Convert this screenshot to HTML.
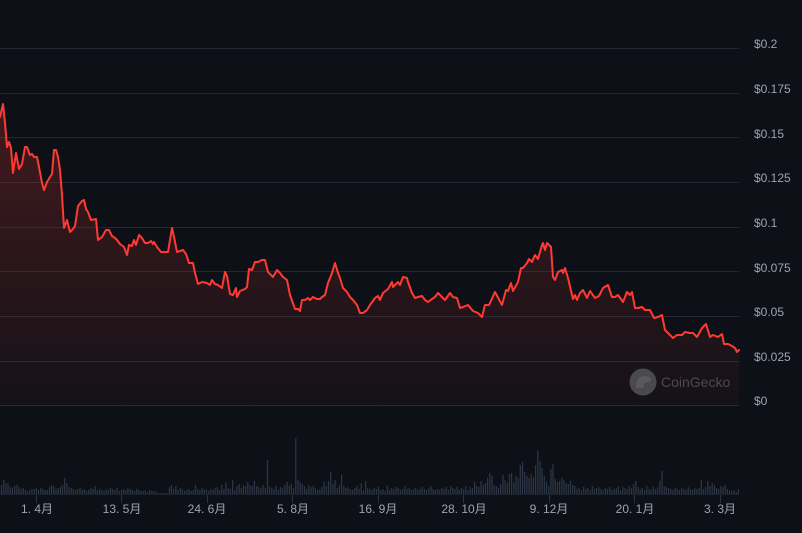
<!DOCTYPE html>
<html><head><meta charset="utf-8"><style>
html,body{margin:0;padding:0;background:#0d1117;}
svg{display:block;}
text{font-family:"Liberation Sans","Noto Sans CJK SC",sans-serif;}
</style></head><body>
<svg width="802" height="533" viewBox="0 0 802 533" xmlns="http://www.w3.org/2000/svg">
<rect width="802" height="533" fill="#0d1117"/>
<defs>
<linearGradient id="g" gradientUnits="userSpaceOnUse" x1="0" y1="104" x2="0" y2="406">
<stop offset="0" stop-color="#ff3a33" stop-opacity="0.22"/>
<stop offset="1" stop-color="#ff3a33" stop-opacity="0.03"/>
</linearGradient>
</defs>
<g stroke="#222831" stroke-width="1">
<line x1="0" x2="739" y1="48.5" y2="48.5"/>
<line x1="0" x2="739" y1="93.5" y2="93.5"/>
<line x1="0" x2="739" y1="137.5" y2="137.5"/>
<line x1="0" x2="739" y1="182.5" y2="182.5"/>
<line x1="0" x2="739" y1="227.5" y2="227.5"/>
<line x1="0" x2="739" y1="271.5" y2="271.5"/>
<line x1="0" x2="739" y1="316.5" y2="316.5"/>
<line x1="0" x2="739" y1="361.5" y2="361.5"/>
<line x1="0" x2="739" y1="405.5" y2="405.5"/>
</g>
<g fill="#9aa4b2" font-size="12">
<text x="754" y="48">$0.2</text>
<text x="754" y="93">$0.175</text>
<text x="754" y="138">$0.15</text>
<text x="754" y="182">$0.125</text>
<text x="754" y="227">$0.1</text>
<text x="754" y="272">$0.075</text>
<text x="754" y="316">$0.05</text>
<text x="754" y="361">$0.025</text>
<text x="754" y="405">$0</text>
</g>
<path fill="url(#g)" d="M0,117 L3,104 5,123 7,147 9,142 11,148 13,173 16,153 19,169 22,164 25,147 27,147 30,155 32,154 34,157 37,157 39,167 42,183 44,190 47,182 50,177 52,174 54,150 56,150 58,157 60,170 62,195 64,228 67,220 70,232 73,229 75,226 78,206 82,201 84,200 86,209 88,212 91,220 96,219 98,240 102,237 106,230 109,230 112,236 115,238 117,240 120,244 124,247 127,255 129,245 132,246 134,240 136,245 139,235 142,238 145,243 148,243 151,241 153,244 154,242 157,247 161,252 168,252 172,228 174,237 177,252 180,251 183,250 186,254 189,263 193,263 195,273 198,284 202,282 207,283 210,285 212,280 215,284 218,285 222,288 225,272 227,276 230,294 233,295 236,288 237,297 240,291 245,289 247,287 249,269 252,270 255,262 258,262 262,260 265,260 268,272 273,277 277,270 280,273 283,277 287,280 290,295 295,309 298,309 300,311 302,300 305,300 308,298 310,300 313,297 317,299 320,299 322,297 325,295 328,283 332,273 335,263 338,273 340,278 343,288 347,292 350,297 353,300 357,305 360,313 363,313 367,310 370,305 375,298 378,296 380,300 383,293 388,289 392,282 393,287 397,283 398,282 400,285 403,277 407,278 408,282 412,293 415,298 418,297 422,296 425,300 428,302 432,299 435,297 438,293 442,297 445,300 450,293 453,297 457,298 460,308 463,307 468,305 473,311 478,313 482,317 485,305 489,305 495,292 502,305 506,290 508,291 511,283 513,291 518,282 521,268 523,268 527,263 529,259 532,262 535,255 538,259 542,245 543,243 545,250 547,243 551,247 553,277 555,280 558,272 562,270 563,273 565,268 568,278 573,299 575,295 577,300 580,293 583,290 587,298 590,291 595,298 599,296 603,288 608,285 612,297 615,297 618,295 623,302 627,292 630,295 632,292 635,308 638,308 642,307 645,310 650,310 654,318 658,317 662,315 665,330 668,333 673,338 677,335 682,335 685,332 690,333 693,333 697,337 702,328 706,324 710,337 713,335 718,337 722,334 724,344 728,344 732,346 735,348 737,352 739,350 L739,406 L0,406 Z"/>
<path fill="none" stroke="#ff3a33" stroke-width="2" stroke-linejoin="round" stroke-linecap="round" d="M0,117 L3,104 5,123 7,147 9,142 11,148 13,173 16,153 19,169 22,164 25,147 27,147 30,155 32,154 34,157 37,157 39,167 42,183 44,190 47,182 50,177 52,174 54,150 56,150 58,157 60,170 62,195 64,228 67,220 70,232 73,229 75,226 78,206 82,201 84,200 86,209 88,212 91,220 96,219 98,240 102,237 106,230 109,230 112,236 115,238 117,240 120,244 124,247 127,255 129,245 132,246 134,240 136,245 139,235 142,238 145,243 148,243 151,241 153,244 154,242 157,247 161,252 168,252 172,228 174,237 177,252 180,251 183,250 186,254 189,263 193,263 195,273 198,284 202,282 207,283 210,285 212,280 215,284 218,285 222,288 225,272 227,276 230,294 233,295 236,288 237,297 240,291 245,289 247,287 249,269 252,270 255,262 258,262 262,260 265,260 268,272 273,277 277,270 280,273 283,277 287,280 290,295 295,309 298,309 300,311 302,300 305,300 308,298 310,300 313,297 317,299 320,299 322,297 325,295 328,283 332,273 335,263 338,273 340,278 343,288 347,292 350,297 353,300 357,305 360,313 363,313 367,310 370,305 375,298 378,296 380,300 383,293 388,289 392,282 393,287 397,283 398,282 400,285 403,277 407,278 408,282 412,293 415,298 418,297 422,296 425,300 428,302 432,299 435,297 438,293 442,297 445,300 450,293 453,297 457,298 460,308 463,307 468,305 473,311 478,313 482,317 485,305 489,305 495,292 502,305 506,290 508,291 511,283 513,291 518,282 521,268 523,268 527,263 529,259 532,262 535,255 538,259 542,245 543,243 545,250 547,243 551,247 553,277 555,280 558,272 562,270 563,273 565,268 568,278 573,299 575,295 577,300 580,293 583,290 587,298 590,291 595,298 599,296 603,288 608,285 612,297 615,297 618,295 623,302 627,292 630,295 632,292 635,308 638,308 642,307 645,310 650,310 654,318 658,317 662,315 665,330 668,333 673,338 677,335 682,335 685,332 690,333 693,333 697,337 702,328 706,324 710,337 713,335 718,337 722,334 724,344 728,344 732,346 735,348 737,352 739,350"/>
<circle cx="643" cy="382" r="13.5" fill="#4a4a4e"/>
<path d="M636,388 q0,-12 9,-12 q6,0 6,5 l-3,1 q-4,0 -5,6 z" fill="#5a5a5e"/>
<text x="661" y="387" font-size="14" fill="#4a4a4e">CoinGecko</text>
<line x1="0" x2="739" y1="494.5" y2="494.5" stroke="#1c222b" stroke-width="1"/>
<path stroke="#2e3747" stroke-width="1.2" fill="none" d="M1.5 494v-9M3.7 494v-14M5.9 494v-11M8.0 494v-10M10.2 494v-7M12.4 494v-6M14.6 494v-8M16.8 494v-9M18.9 494v-7M21.1 494v-5M23.3 494v-6M25.5 494v-4M27.7 494v-3M29.8 494v-4M32.0 494v-5M34.2 494v-5M36.4 494v-6M38.6 494v-4M40.7 494v-6M42.9 494v-5M45.1 494v-4M47.3 494v-4M49.5 494v-7M51.6 494v-9M53.8 494v-8M56.0 494v-5M58.2 494v-6M60.4 494v-7M62.5 494v-9M64.7 494v-16M66.9 494v-11M69.1 494v-7M71.3 494v-6M73.4 494v-5M75.6 494v-4M77.8 494v-5M80.0 494v-6M82.2 494v-4M84.3 494v-5M86.5 494v-3M88.7 494v-4M90.9 494v-6M93.1 494v-5M95.2 494v-8M97.4 494v-4M99.6 494v-5M101.8 494v-4M104.0 494v-3M106.1 494v-5M108.3 494v-4M110.5 494v-6M112.7 494v-5M114.9 494v-4M117.0 494v-6M119.2 494v-3M121.4 494v-4M123.6 494v-5M125.8 494v-4M127.9 494v-6M130.1 494v-5M132.3 494v-4M134.5 494v-3M136.7 494v-5M138.8 494v-4M141.0 494v-3M143.2 494v-3M145.4 494v-4M147.6 494v-2M149.7 494v-4M151.9 494v-3M154.1 494v-3M156.3 494v-2M158.5 494v-1M160.6 494v-1M162.8 494v-1M165.0 494v-1M167.2 494v-1M169.4 494v-7M171.5 494v-9M173.7 494v-5M175.9 494v-8M178.1 494v-4M180.3 494v-6M182.4 494v-5M184.6 494v-3M186.8 494v-4M189.0 494v-5M191.2 494v-3M193.3 494v-4M195.5 494v-9M197.7 494v-5M199.9 494v-4M202.1 494v-6M204.2 494v-4M206.4 494v-5M208.6 494v-3M210.8 494v-5M213.0 494v-4M215.1 494v-6M217.3 494v-7M219.5 494v-4M221.7 494v-9M223.9 494v-5M226.0 494v-12M228.2 494v-6M230.4 494v-5M232.6 494v-14M234.8 494v-4M236.9 494v-8M239.1 494v-10M241.3 494v-6M243.5 494v-9M245.7 494v-8M247.8 494v-12M250.0 494v-9M252.2 494v-8M254.4 494v-13M256.6 494v-8M258.7 494v-7M260.9 494v-6M263.1 494v-9M265.3 494v-6M267.5 494v-34M269.6 494v-7M271.8 494v-6M274.0 494v-5M276.2 494v-8M278.4 494v-4M280.5 494v-7M282.7 494v-6M284.9 494v-9M287.1 494v-12M289.3 494v-8M291.4 494v-10M293.6 494v-6M295.8 494v-56M298.0 494v-14M300.2 494v-12M302.3 494v-10M304.5 494v-8M306.7 494v-5M308.9 494v-9M311.1 494v-7M313.2 494v-8M315.4 494v-6M317.6 494v-4M319.8 494v-5M322.0 494v-7M324.1 494v-12M326.3 494v-8M328.5 494v-13M330.7 494v-22M332.9 494v-10M335.0 494v-14M337.2 494v-6M339.4 494v-9M341.6 494v-19M343.8 494v-8M345.9 494v-6M348.1 494v-7M350.3 494v-5M352.5 494v-4M354.7 494v-6M356.8 494v-8M359.0 494v-5M361.2 494v-11M363.4 494v-4M365.6 494v-13M367.7 494v-6M369.9 494v-5M372.1 494v-4M374.3 494v-6M376.5 494v-5M378.6 494v-7M380.8 494v-4M383.0 494v-5M385.2 494v-3M387.4 494v-8M389.5 494v-4M391.7 494v-6M393.9 494v-5M396.1 494v-7M398.3 494v-6M400.4 494v-4M402.6 494v-5M404.8 494v-8M407.0 494v-5M409.2 494v-6M411.3 494v-4M413.5 494v-5M415.7 494v-6M417.9 494v-4M420.1 494v-5M422.2 494v-7M424.4 494v-5M426.6 494v-4M428.8 494v-6M431.0 494v-8M433.1 494v-5M435.3 494v-4M437.5 494v-5M439.7 494v-4M441.9 494v-6M444.0 494v-5M446.2 494v-7M448.4 494v-4M450.6 494v-8M452.8 494v-6M454.9 494v-5M457.1 494v-7M459.3 494v-4M461.5 494v-6M463.7 494v-5M465.8 494v-8M468.0 494v-4M470.2 494v-7M472.4 494v-6M474.6 494v-12M476.7 494v-8M478.9 494v-7M481.1 494v-13M483.3 494v-9M485.5 494v-11M487.6 494v-16M489.8 494v-21M492.0 494v-18M494.2 494v-9M496.4 494v-8M498.5 494v-6M500.7 494v-10M502.9 494v-19M505.1 494v-14M507.3 494v-11M509.4 494v-20M511.6 494v-21M513.8 494v-12M516.0 494v-18M518.2 494v-16M520.3 494v-29M522.5 494v-32M524.7 494v-22M526.9 494v-18M529.1 494v-16M531.2 494v-20M533.4 494v-17M535.6 494v-29M537.8 494v-43M540.0 494v-33M542.1 494v-26M544.3 494v-18M546.5 494v-12M548.7 494v-8M550.9 494v-25M553.0 494v-30M555.2 494v-15M557.4 494v-12M559.6 494v-13M561.8 494v-16M563.9 494v-14M566.1 494v-11M568.3 494v-10M570.5 494v-13M572.7 494v-9M574.8 494v-8M577.0 494v-5M579.2 494v-6M581.4 494v-4M583.6 494v-7M585.7 494v-5M587.9 494v-6M590.1 494v-4M592.3 494v-8M594.5 494v-5M596.6 494v-6M598.8 494v-7M601.0 494v-5M603.2 494v-4M605.4 494v-6M607.5 494v-5M609.7 494v-7M611.9 494v-4M614.1 494v-5M616.3 494v-6M618.4 494v-8M620.6 494v-4M622.8 494v-7M625.0 494v-6M627.2 494v-5M629.3 494v-8M631.5 494v-6M633.7 494v-10M635.9 494v-13M638.1 494v-7M640.2 494v-5M642.4 494v-6M644.6 494v-4M646.8 494v-8M649.0 494v-5M651.1 494v-4M653.3 494v-7M655.5 494v-5M657.7 494v-7M659.9 494v-13M662.0 494v-23M664.2 494v-8M666.4 494v-7M668.6 494v-6M670.8 494v-5M672.9 494v-4M675.1 494v-6M677.3 494v-5M679.5 494v-4M681.7 494v-6M683.8 494v-5M686.0 494v-4M688.2 494v-7M690.4 494v-5M692.6 494v-4M694.7 494v-6M696.9 494v-5M699.1 494v-6M701.3 494v-14M703.5 494v-5M705.6 494v-7M707.8 494v-13M710.0 494v-8M712.2 494v-11M714.4 494v-9M716.5 494v-6M718.7 494v-5M720.9 494v-8M723.1 494v-7M725.3 494v-9M727.4 494v-5M729.6 494v-4M731.8 494v-3M734.0 494v-4M736.2 494v-2M738.3 494v-5"/>
<g stroke="#2a3240" stroke-width="1">
<line x1="36.5" x2="36.5" y1="495" y2="503"/>
<line x1="121.5" x2="121.5" y1="495" y2="503"/>
<line x1="207.5" x2="207.5" y1="495" y2="503"/>
<line x1="292.5" x2="292.5" y1="495" y2="503"/>
<line x1="378.5" x2="378.5" y1="495" y2="503"/>
<line x1="463.5" x2="463.5" y1="495" y2="503"/>
<line x1="549.5" x2="549.5" y1="495" y2="503"/>
<line x1="634.5" x2="634.5" y1="495" y2="503"/>
<line x1="720.5" x2="720.5" y1="495" y2="503"/>
</g>
<g fill="#9aa4b2" font-size="12" text-anchor="middle">
<text x="37" y="513">1. 4月</text>
<text x="122" y="513">13. 5月</text>
<text x="207" y="513">24. 6月</text>
<text x="293" y="513">5. 8月</text>
<text x="378" y="513">16. 9月</text>
<text x="464" y="513">28. 10月</text>
<text x="549" y="513">9. 12月</text>
<text x="635" y="513">20. 1月</text>
<text x="720" y="513">3. 3月</text>
</g>
</svg>
</body></html>
